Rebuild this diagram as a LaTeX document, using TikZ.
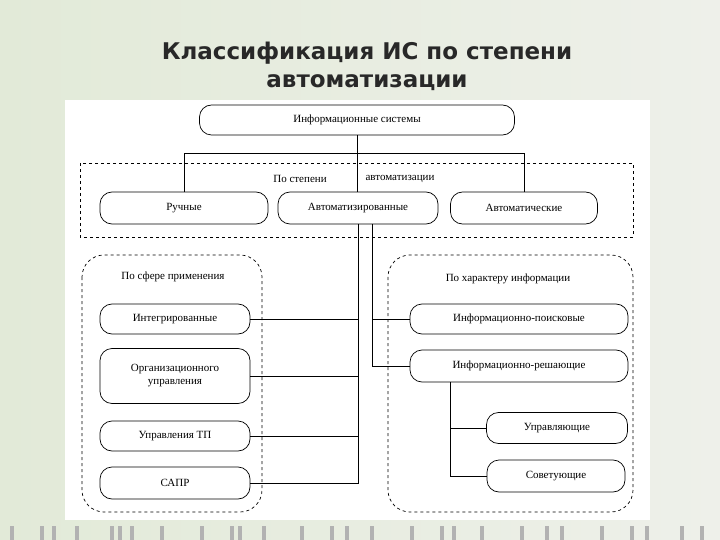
\documentclass[tikz,border=0pt]{standalone}
\usepackage{fontspec}
\setmainfont{Liberation Serif}
\newfontfamily\titlefont{DejaVu Sans}
\definecolor{bgl}{RGB}{226,234,216}
\definecolor{bgr}{RGB}{238,240,234}
\definecolor{ttl}{RGB}{40,40,40}
\begin{document}
\begin{tikzpicture}[x=1pt,y=-1pt,
  box/.style={draw,rounded corners=12pt,font=\fontsize{11}{13}\selectfont,align=center,line width=0.7pt},
  grp/.style={draw,dashed,rounded corners=22pt,line width=0.7pt},
  ln/.style={line width=0.8pt}]
\fill[left color=bgl, right color=bgr] (0,0) rectangle (720,540);
\useasboundingbox (0,0) rectangle (720,540);
\fill[white] (65,100) rectangle (650,520);
\foreach \x in {10,40,52,75,110,118,130,160,200,230,238,262,300,330,345,370,410,440,452,480,520,545,560,600,630,645,680,700}
  \fill[gray!60] (\x,526) rectangle +(4,14);
\node[font=\titlefont\bfseries\fontsize{23}{28}\selectfont,text=ttl,align=center] (title) at (367,66) {Классификация ИС по степени\\автоматизации};
\draw[dashed,line width=0.7pt] (80,163) rectangle (633,237);
\draw[grp] (82,255) rectangle (262,512);
\draw[grp] (388,255) rectangle (633,512);
\node[box,minimum width=315pt,minimum height=30pt] (is) at (357,120) {Информационные системы};
\node[font=\fontsize{11}{13}\selectfont] (l1) at (300,179) {По степени};
\node[font=\fontsize{11}{13}\selectfont] (l2) at (400,179) {автоматизации};
\node[box,minimum width=168pt,minimum height=32pt] (r) at (184,208) {Ручные};
\node[box,minimum width=160pt,minimum height=32pt] (a) at (358,208) {Автоматизированные};
\node[box,minimum width=147pt,minimum height=32pt] (au) at (524,208) {Автоматические};
\node[font=\fontsize{11}{13}\selectfont] (l3) at (173,277) {По сфере применения};
\node[font=\fontsize{11}{13}\selectfont] (l4) at (508,279) {По характеру информации};
\node[box,minimum width=150pt,minimum height=30pt] (i1) at (175,319) {Интегрированные};
\node[box,minimum width=150pt,minimum height=55pt] (i2) at (175,376) {Организационного\\управления};
\node[box,minimum width=150pt,minimum height=30pt] (i3) at (175,436) {Управления ТП};
\node[box,minimum width=150pt,minimum height=32pt] (i4) at (175,483) {САПР};
\node[box,minimum width=218pt,minimum height=30pt] (p) at (519,319) {Информационно-поисковые};
\node[box,minimum width=218pt,minimum height=32pt] (s) at (519,366) {Информационно-решающие};
\node[box,minimum width=141pt,minimum height=31pt] (u) at (557,428) {Управляющие};
\node[box,minimum width=138pt,minimum height=32pt] (sv) at (556,476) {Советующие};
\draw[ln] (is.south) -- (is.south |- 0,153) coordinate (h);
\draw[ln] (r.north) -- (r.north |- h) -- (au.north |- h) -- (au.north);
\draw[ln] (h) -- (h |- a.north);
\coordinate (c1) at (358,224);
\coordinate (c2) at (372,224);
\draw[ln] (c1) -- (c1 |- i4.east) -- (i4.east);
\draw[ln] (i1.east) -- (i1.east -| c1);
\draw[ln] (i2.east) -- (i2.east -| c1);
\draw[ln] (i3.east) -- (i3.east -| c1);
\draw[ln] (c2) -- (c2 |- s.west) -- (s.west);
\draw[ln] (p.west) -- (p.west -| c2);
\coordinate (c3) at (450,382);
\draw[ln] (c3) -- (c3 |- sv.west) -- (sv.west);
\draw[ln] (u.west) -- (u.west -| c3);
\end{tikzpicture}
\end{document}
